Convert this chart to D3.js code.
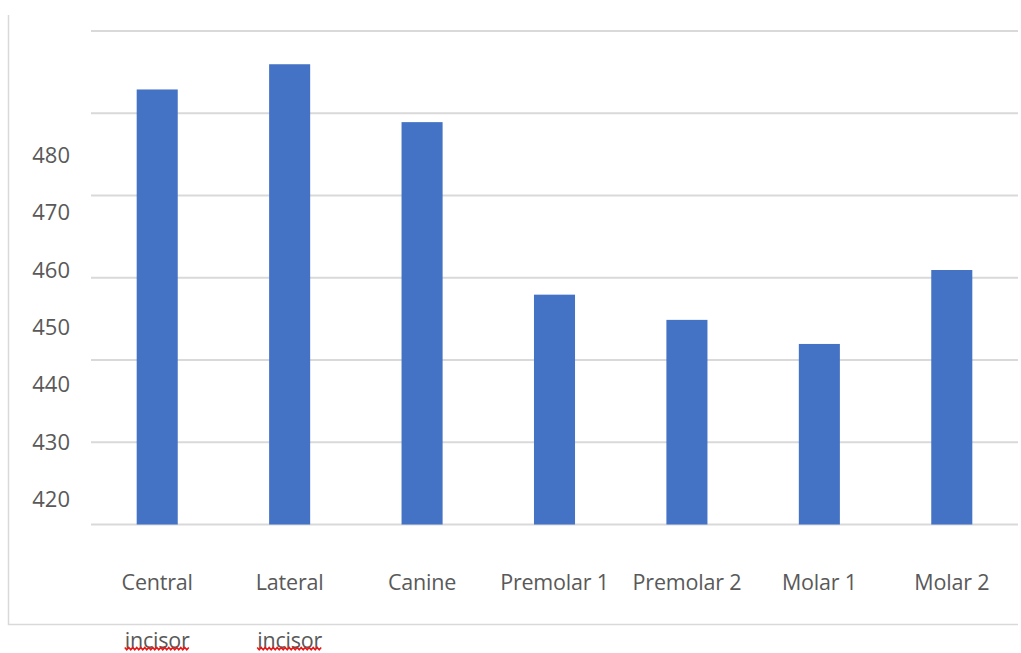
<!DOCTYPE html>
<html>
<head>
<meta charset="utf-8">
<script src="https://cdn.jsdelivr.net/npm/d3@7"></script>
<style>
  html, body { margin: 0; padding: 0; background: #ffffff; }
  svg { display: block; }
  text { font-family: "Open Sans", "Noto Sans", sans-serif; fill: #595959; }
</style>
</head>
<body>
<svg id="chart" width="1021" height="653"></svg>
<script>
// Tooth categories (line breaks mark wrapped labels)
const categories = ["Central\nincisor", "Lateral\nincisor", "Canine", "Premolar 1", "Premolar 2", "Molar 1", "Molar 2"];
// Measured values per tooth
const values = [491.4, 495.8, 485.7, 455.6, 451.2, 447.0, 459.9];
// Value-axis labels
const yTickLabels = [420, 430, 440, 450, 460, 470, 480];
// Value range covered by the plot area and number of gridline intervals
const yDomain = [415.5, 501.6];
const gridIntervals = 6;
// Words flagged by the spell checker
const flaggedWords = ["incisor"];

const svg = d3.select("#chart");
const plot = { left: 91, right: 1018, top: 31, bottom: 524.5 };

const x = d3.scaleBand()
  .domain(categories)
  .range([plot.left, plot.right])
  .paddingInner(0.69)
  .paddingOuter(0.345);

const y = d3.scaleLinear()
  .domain(yDomain)
  .range([plot.bottom, plot.top]);

// Outer frame (left and bottom edges)
svg.append("path")
  .attr("d", `M8.5,15 V624.5 H1018`)
  .attr("fill", "none")
  .attr("stroke", "#d9d9d9")
  .attr("stroke-width", 1.5);

// Horizontal gridlines
const gridValues = d3.range(gridIntervals + 1).map(i => yDomain[0] + i * (yDomain[1] - yDomain[0]) / gridIntervals);
svg.append("g")
  .selectAll("line")
  .data(gridValues)
  .join("line")
  .attr("x1", plot.left)
  .attr("x2", plot.right)
  .attr("y1", d => y(d))
  .attr("y2", d => y(d))
  .attr("stroke", "#d9d9d9")
  .attr("stroke-width", 2);

// Bars
svg.append("g")
  .selectAll("rect")
  .data(values)
  .join("rect")
  .attr("x", (d, i) => x(categories[i]))
  .attr("width", x.bandwidth())
  .attr("y", d => y(d))
  .attr("height", d => y(yDomain[0]) - y(d))
  .attr("fill", "#4472c4");

// Value-axis labels
const yAxis = d3.axisLeft(y).tickValues(yTickLabels).tickSize(0).tickPadding(0);
const yg = svg.append("g")
  .attr("transform", "translate(70,0)")
  .call(yAxis);
yg.select(".domain").remove();
yg.selectAll("text")
  .style("font-size", "22px")
  .attr("fill", "#595959")
  .attr("dy", "0.35em");

// Category labels
const xg = svg.append("g");
categories.forEach((c, i) => {
  const cx = x(c) + x.bandwidth() / 2;
  c.split("\n").forEach((line, j) => {
    const t = xg.append("text")
      .attr("x", cx)
      .attr("y", 582 + j * 58)
      .attr("dy", "0.35em")
      .attr("text-anchor", "middle")
      .style("font-size", "21.5px")
      .style("letter-spacing", "-0.2px")
      .text(line);
    if (flaggedWords.includes(line)) {
      const w = t.node().getComputedTextLength();
      const x0 = cx - w / 2, x1 = cx + w / 2;
      const pts = d3.range(0, Math.floor((x1 - x0) / 2) + 1).map(k => [x0 + k * 2, 648 + (k % 2 ? 1.8 : -0.6)]);
      xg.append("path")
        .attr("d", d3.line()(pts))
        .attr("fill", "none")
        .attr("stroke", "#e81818")
        .attr("stroke-width", 1.5);
    }
  });
});
</script>
</body>
</html>
